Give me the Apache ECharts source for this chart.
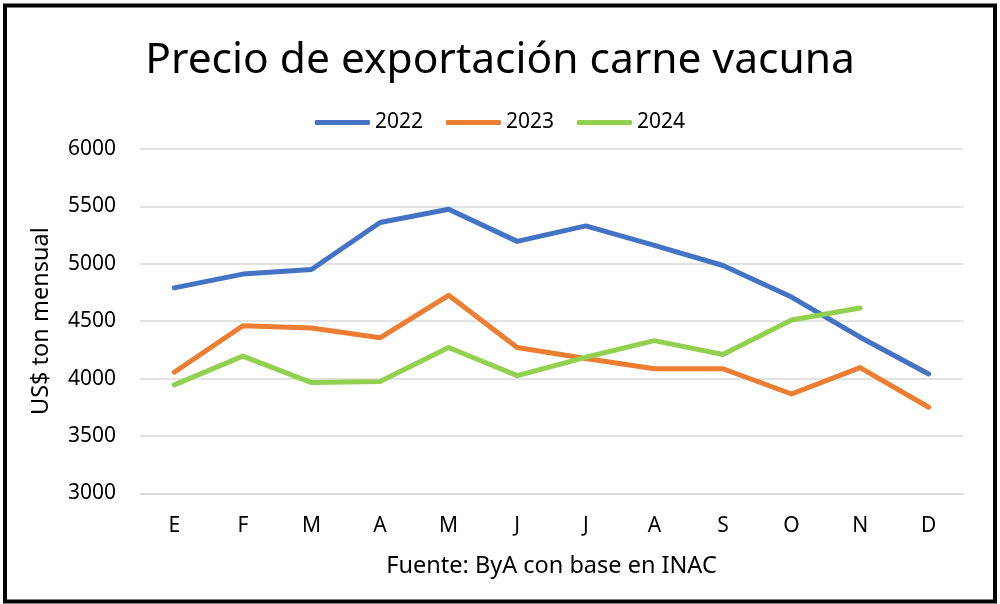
<!DOCTYPE html>
<html><head><meta charset="utf-8">
<script src="https://cdn.jsdelivr.net/npm/echarts@6/dist/echarts.min.js"></script>
<style>html,body{margin:0;padding:0;background:#fff}#c{width:1000px;height:604px}</style>
</head><body><div id="c"></div>
<script>
const months = ['E','F','M','A','M','J','J','A','S','O','N','D'];
const s2022 = [4790, 4910, 4950, 5360, 5475, 5195, 5330, 5160, 4985, 4710, 4360, 4040];
const s2023 = [4055, 4460, 4440, 4355, 4725, 4270, 4175, 4085, 4085, 3865, 4095, 3750];
const s2024 = [3945, 4195, 3965, 3975, 4270, 4025, 4185, 4330, 4210, 4510, 4615];
const yTicks = {min: 3000, max: 6000, step: 500};

const FONT = 'Noto Sans';
const chart = echarts.init(document.getElementById('c'), null, {renderer: 'canvas'});
const mk = (name, data, color) => ({
  name, type: 'line', data, showSymbol: false, symbol: 'none',
  lineStyle: {color, width: 5, cap: 'round', join: 'round'},
  itemStyle: {color}, emphasis: {disabled: true}
});
chart.setOption({
  animation: false,
  textStyle: {fontFamily: FONT},
  title: {
    text: 'Precio de exportación carne vacuna', left: 'center', top: 34,
    textStyle: {fontFamily: FONT, fontSize: 42.5, fontWeight: 'normal', color: '#000'}
  },
  legend: {
    top: 107, left: 'center', itemWidth: 55, itemHeight: 5, itemGap: 23,
    icon: 'roundRect',
    textStyle: {fontFamily: FONT, fontSize: 21, color: '#000', padding: [0,0,0,0]},
    data: ['2022','2023','2024']
  },
  grid: {left: 140, right: 37, top: 149, bottom: 110.7, containLabel: false},
  xAxis: {
    type: 'category', data: months, boundaryGap: true,
    axisLine: {show: true, lineStyle: {color: '#D9D9D9', width: 1.5}},
    axisTick: {show: false},
    axisLabel: {fontFamily: FONT, fontSize: 21, color: '#000', margin: 22},
    name: 'Fuente: ByA con base en INAC', nameLocation: 'middle', nameGap: 61,
    nameTextStyle: {fontFamily: FONT, fontSize: 23.5, color: '#000'}
  },
  yAxis: {
    type: 'value', min: yTicks.min, max: yTicks.max, interval: yTicks.step,
    axisLine: {show: false}, axisTick: {show: false},
    splitLine: {lineStyle: {color: '#D9D9D9', width: 1.5}},
    axisLabel: {fontFamily: FONT, fontSize: 21, color: '#000', margin: 24, formatter: v => String(v)},
    name: 'US$ ton mensual', nameLocation: 'middle', nameGap: 87, nameRotate: 90,
    nameTextStyle: {fontFamily: FONT, fontSize: 23.5, color: '#000'}
  },
  series: [
    mk('2022', s2022, '#4472C4'),
    mk('2023', s2023, '#ED7D31'),
    mk('2024', s2024, '#92D050')
  ],
  graphic: [{
    type: 'rect', silent: true, z: 100,
    shape: {x: 5, y: 5.5, width: 990, height: 596},
    style: {fill: 'none', stroke: '#000', lineWidth: 4}
  }]
});
</script></body></html>
